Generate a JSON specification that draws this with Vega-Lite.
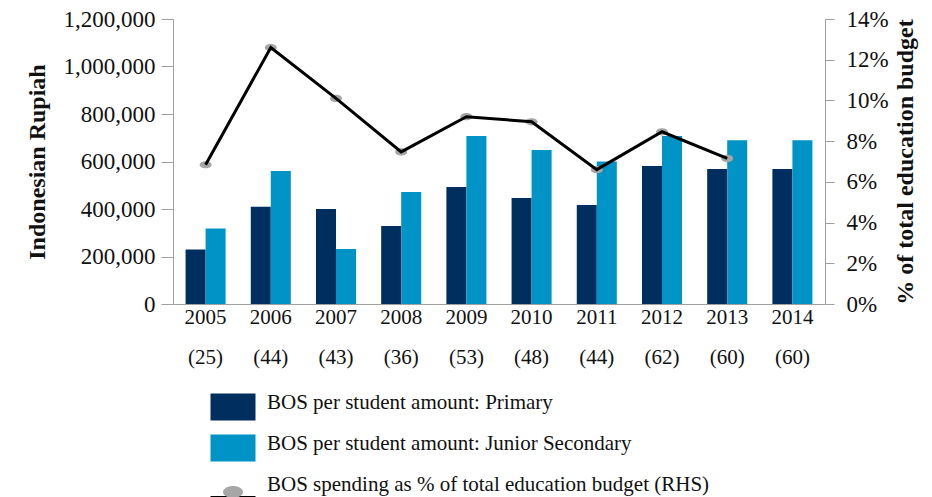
{
  "$schema": "https://vega.github.io/schema/vega-lite/v6.json",
  "width": 652,
  "height": 285,
  "autosize": {"type": "none"},
  "padding": {"left": 173, "top": 19, "right": 107, "bottom": 193},
  "config": {
    "font": "Liberation Serif",
    "view": {"stroke": null},
    "axis": {"grid": false, "domainColor": "#a0a0a0", "tickColor": "#a0a0a0", "labelColor": "#111111", "titleColor": "#111111", "labelFont": "Liberation Serif", "titleFont": "Liberation Serif"},
    "legend": {"labelFont": "Liberation Serif", "labelColor": "#111111"}
  },
  "data": {
    "values": [
      {"year": "2005", "series": "BOS per student amount: Primary", "value": 230000},
      {"year": "2005", "series": "BOS per student amount: Junior Secondary", "value": 318000},
      {"year": "2006", "series": "BOS per student amount: Primary", "value": 410000},
      {"year": "2006", "series": "BOS per student amount: Junior Secondary", "value": 560000},
      {"year": "2007", "series": "BOS per student amount: Primary", "value": 400000},
      {"year": "2007", "series": "BOS per student amount: Junior Secondary", "value": 232000},
      {"year": "2008", "series": "BOS per student amount: Primary", "value": 328000},
      {"year": "2008", "series": "BOS per student amount: Junior Secondary", "value": 472000},
      {"year": "2009", "series": "BOS per student amount: Primary", "value": 493000},
      {"year": "2009", "series": "BOS per student amount: Junior Secondary", "value": 707000},
      {"year": "2010", "series": "BOS per student amount: Primary", "value": 446000},
      {"year": "2010", "series": "BOS per student amount: Junior Secondary", "value": 648000},
      {"year": "2011", "series": "BOS per student amount: Primary", "value": 417000},
      {"year": "2011", "series": "BOS per student amount: Junior Secondary", "value": 600000},
      {"year": "2012", "series": "BOS per student amount: Primary", "value": 581000},
      {"year": "2012", "series": "BOS per student amount: Junior Secondary", "value": 707000},
      {"year": "2013", "series": "BOS per student amount: Primary", "value": 568000},
      {"year": "2013", "series": "BOS per student amount: Junior Secondary", "value": 690000},
      {"year": "2014", "series": "BOS per student amount: Primary", "value": 568000},
      {"year": "2014", "series": "BOS per student amount: Junior Secondary", "value": 690000},
      {"year": "2005", "series": "BOS spending as % of total education budget (RHS)", "value": 6.84},
      {"year": "2006", "series": "BOS spending as % of total education budget (RHS)", "value": 12.6},
      {"year": "2007", "series": "BOS spending as % of total education budget (RHS)", "value": 10.1},
      {"year": "2008", "series": "BOS spending as % of total education budget (RHS)", "value": 7.47},
      {"year": "2009", "series": "BOS spending as % of total education budget (RHS)", "value": 9.2},
      {"year": "2010", "series": "BOS spending as % of total education budget (RHS)", "value": 8.95},
      {"year": "2011", "series": "BOS spending as % of total education budget (RHS)", "value": 6.6},
      {"year": "2012", "series": "BOS spending as % of total education budget (RHS)", "value": 8.46},
      {"year": "2013", "series": "BOS spending as % of total education budget (RHS)", "value": 7.15}
    ]
  },
  "layer": [
    {
      "transform": [{"filter": "datum.series !== 'BOS spending as % of total education budget (RHS)'"}],
      "mark": {"type": "bar"},
      "encoding": {
        "x": {
          "field": "year", "type": "ordinal",
          "scale": {"paddingInner": 0.386, "paddingOuter": 0.193},
          "axis": {
            "title": null, "labelAngle": 0, "ticks": false, "labelPadding": 2,
            "labelFontSize": 21, "labelLineHeight": 40,
            "labelExpr": "[datum.label, '(' + ['25','44','43','36','53','48','44','62','60','60'][toNumber(datum.label) - 2005] + ')']"
          }
        },
        "xOffset": {"field": "series", "type": "nominal", "sort": ["BOS per student amount: Primary", "BOS per student amount: Junior Secondary"]},
        "y": {
          "field": "value", "type": "quantitative",
          "scale": {"domain": [0, 1200000]},
          "axis": {
            "title": "Indonesian Rupiah", "titleFontSize": 24, "titleFontWeight": "bold",
            "values": [0, 200000, 400000, 600000, 800000, 1000000, 1200000],
            "labelExpr": "format(datum.value, ',')", "labelFontSize": 23, "tickSize": 12, "labelPadding": 6, "titlePadding": 14
          }
        },
        "color": {
          "field": "series", "type": "nominal",
          "scale": {
            "domain": ["BOS per student amount: Primary", "BOS per student amount: Junior Secondary", "BOS spending as % of total education budget (RHS)"],
            "range": ["#002f5f", "#0093c6", "#000000"]
          },
          "legend": {
            "title": null, "orient": "none", "legendX": 49.5, "legendY": 377.5,
            "direction": "vertical", "symbolSize": 900, "labelFontSize": 21,
            "labelOffset": 23.5, "rowPadding": 12, "labelLimit": 0, "padding": 0,
            "encode": {
              "symbols": {
                "update": {
                  "shape": {"signal": "datum.value === 'BOS spending as % of total education budget (RHS)' ? 'M-1.5,0H1.5' : 'M-1.5,-0.9H1.5V0.9H-1.5Z'"},
                  "fill": {"signal": "datum.value === 'BOS spending as % of total education budget (RHS)' ? 'transparent' : scale('color', datum.value)"},
                  "stroke": {"signal": "datum.value === 'BOS spending as % of total education budget (RHS)' ? '#000000' : 'transparent'"},
                  "strokeWidth": {"signal": "datum.value === 'BOS spending as % of total education budget (RHS)' ? 4 : 0"},
                  "opacity": {"value": 1}
                }
              },
              "labels": {
                "update": {
                  "dy": {"signal": "datum.value === 'BOS spending as % of total education budget (RHS)' ? -13 : -4"}
                }
              }
            }
          }
        }
      }
    },
    {
      "transform": [{"filter": "datum.series === 'BOS spending as % of total education budget (RHS)'"}],
      "encoding": {
        "x": {"field": "year", "type": "ordinal"},
        "y": {
          "field": "value", "type": "quantitative",
          "scale": {"domain": [0, 14]},
          "axis": {
            "orient": "right", "title": "% of total education budget", "titleAngle": 270, "titleBaseline": "top",
            "titleFontSize": 24, "titleFontWeight": "bold",
            "values": [0, 2, 4, 6, 8, 10, 12, 14], "labelExpr": "datum.value + '%'",
            "labelFontSize": 23, "tickSize": 9, "labelPadding": 12, "titlePadding": 5
          }
        }
      },
      "layer": [
        {
          "mark": {"type": "point", "filled": true, "color": "#a6a6a6", "opacity": 1, "size": 144},
          "encoding": {
            "shape": {
              "field": "series", "type": "nominal",
              "scale": {"range": ["M-1,0A1,0.6 0 1,0 1,0A1,0.6 0 1,0 -1,0Z"]},
              "legend": {
                "title": null, "orient": "none", "legendX": 50, "legendY": 463,
                "symbolSize": 400, "labelExpr": "''", "padding": 0,
                "symbolFillColor": "#a6a6a6", "symbolStrokeWidth": 0,
                "encode": {"symbols": {"update": {"shape": {"value": "M-1,0A1,0.6 0 0,1 1,0Z"}, "fill": {"value": "#a6a6a6"}, "stroke": {"value": "transparent"}, "opacity": {"value": 1}}}}
              }
            }
          }
        },
        {
          "mark": {"type": "line", "strokeWidth": 3},
          "encoding": {"color": {"field": "series", "type": "nominal"}}
        }
      ]
    }
  ],
  "resolve": {"scale": {"y": "independent"}}
}
